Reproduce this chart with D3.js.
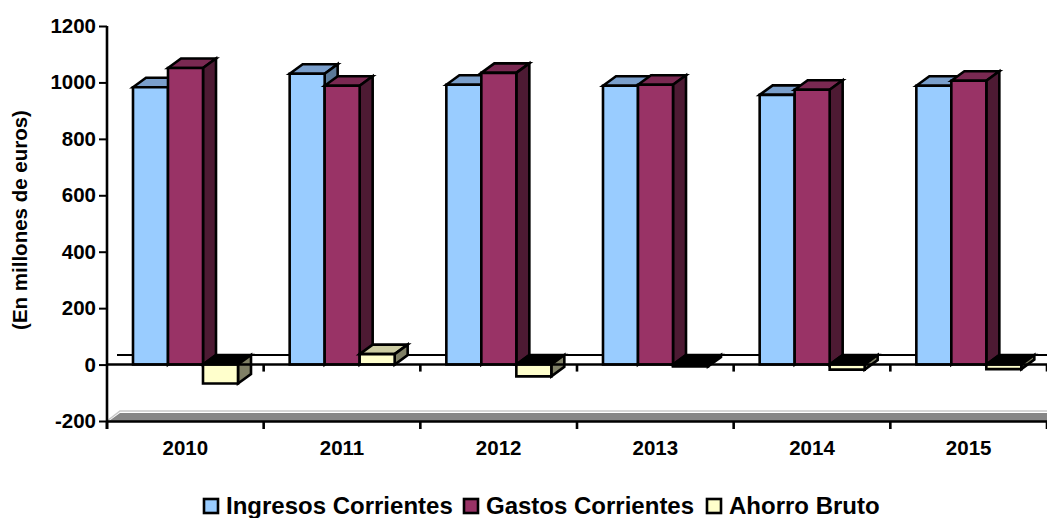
<!DOCTYPE html>
<html>
<head>
<meta charset="utf-8">
<script src="https://cdn.jsdelivr.net/npm/d3@7"></script>
<style>
  body { margin: 0; background: #fff; overflow: hidden; }
  text { font-family: "Liberation Sans", Arial, sans-serif; font-weight: bold; fill: #000; }
</style>
</head>
<body>
<svg id="chart" width="1047" height="518"></svg>
<script>
const years = ['2010', '2011', '2012', '2013', '2014', '2015'];
const ingresos = [983, 1031, 992, 988, 956, 988];
const gastos = [1051, 988, 1034, 992, 974, 1006];
const ahorro = [-67, 37, -42, -7, -18, -16];
const yTicks = [-200, 0, 200, 400, 600, 800, 1000, 1200];

const series = [
    { name: 'Ingresos Corrientes', values: ingresos, front: '#99ccff', top: '#7a9fcc', side: '#5c7a99' },
    { name: 'Gastos Corrientes', values: gastos, front: '#993366', top: '#7a2952', side: '#4d1a33' },
    { name: 'Ahorro Bruto', values: ahorro, front: '#ffffcc', top: '#cccca3', side: '#808066' }
];

const svg = d3.select('#chart');
const depthX = 13;
const depthY = 9.5;
const lineW = 2.6;

const x = d3.scaleBand().domain(years).range([107, 1047]);
const xBar = d3.scaleBand().domain(series.map(d => d.name)).range([26, 131]);
const y = d3.scaleLinear().domain([-200, 1200]).range([421, 26]);

// back wall zero line and floor
svg.append('line')
    .attr('x1', 117).attr('x2', 1047)
    .attr('y1', y(0) - depthY).attr('y2', y(0) - depthY)
    .attr('stroke', '#000').attr('stroke-width', 2);

svg.append('path')
    .attr('d', `M109,${y(-200)}L120,${y(-200) - 8}H1047V${y(-200)}Z`)
    .attr('fill', '#868686');
svg.append('path')
    .attr('d', `M107,${y(-200)}L120,${y(-200) - 10}H1047`)
    .attr('fill', 'none').attr('stroke', '#c8c8c8').attr('stroke-width', 1.5);

const drawBar = (g, s, year, v) => {
    const left = x(year) + xBar(s.name);
    const w = xBar.bandwidth();
    const yTop = Math.min(y(0), y(v));
    const yBot = Math.max(y(0), y(v));
    const faces = [
        { d: `M${left},${yTop}l${depthX},${-depthY}h${w}l${-depthX},${depthY}Z`, fill: v < 0 ? '#000' : s.top },
        { d: `M${left + w},${yTop}l${depthX},${-depthY}V${yBot - depthY}l${-depthX},${depthY}Z`, fill: s.side },
        { d: `M${left},${yTop}h${w}V${yBot}H${left}Z`, fill: s.front }
    ];
    g.selectAll('path').data(faces).enter().append('path')
        .attr('d', d => d.d)
        .attr('fill', d => d.fill)
        .attr('stroke', '#000')
        .attr('stroke-width', lineW);
};

years.forEach((year, i) => {
    series.forEach(s => {
        drawBar(svg.append('g'), s, year, s.values[i]);
    });
});

// axes
const yAxis = d3.axisLeft(y).tickValues(yTicks).tickSize(8).tickPadding(3).tickFormat(String);
const gy = svg.append('g').attr('transform', 'translate(107,0)').call(yAxis);

const xAxis = d3.axisBottom(x).tickSize(0).tickPadding(19);
const gx = svg.append('g').attr('transform', `translate(0,${y(-200)})`).call(xAxis);

const edges = years.map(d => x(d)).concat([1047]);
svg.append('g').selectAll('line').data(edges).enter().append('line')
    .attr('x1', d => d).attr('x2', d => d)
    .attr('y1', y(-200)).attr('y2', y(-200) + 8)
    .attr('stroke', '#000').attr('stroke-width', lineW);
svg.append('g').selectAll('line').data(edges.slice(1)).enter().append('line')
    .attr('x1', d => d).attr('x2', d => d)
    .attr('y1', y(0)).attr('y2', y(0) + 7)
    .attr('stroke', '#000').attr('stroke-width', lineW);

svg.append('line')
    .attr('x1', 107).attr('x2', 1047)
    .attr('y1', y(0)).attr('y2', y(0))
    .attr('stroke', '#000').attr('stroke-width', lineW);

[gy, gx].forEach(g => {
    g.selectAll('path.domain').attr('stroke', '#000').attr('stroke-width', lineW);
    g.selectAll('.tick line').attr('stroke', '#000').attr('stroke-width', 2);
    g.selectAll('text')
        .style('font-size', '20.5px')
        .style('font-family', '"Liberation Sans", Arial, sans-serif')
        .style('font-weight', 'bold');
});
gy.select('path.domain').attr('d', `M0,${y(1200)}V${y(-200) + 8}`);

svg.append('text')
    .attr('transform', 'translate(27,220) rotate(-90)')
    .attr('text-anchor', 'middle')
    .style('font-size', '20.5px')
    .text('(En millones de euros)');

// legend
const legendX = [204, 464, 707];
const legend = svg.append('g').selectAll('g').data(series).enter().append('g')
    .attr('transform', (d, i) => `translate(${legendX[i]},499)`);
legend.append('rect')
    .attr('width', 14).attr('height', 14)
    .attr('fill', d => d.front)
    .attr('stroke', '#000').attr('stroke-width', lineW);
legend.append('text')
    .attr('x', 22).attr('y', 15)
    .style('font-size', '24px')
    .text(d => d.name);
</script>
</body>
</html>
